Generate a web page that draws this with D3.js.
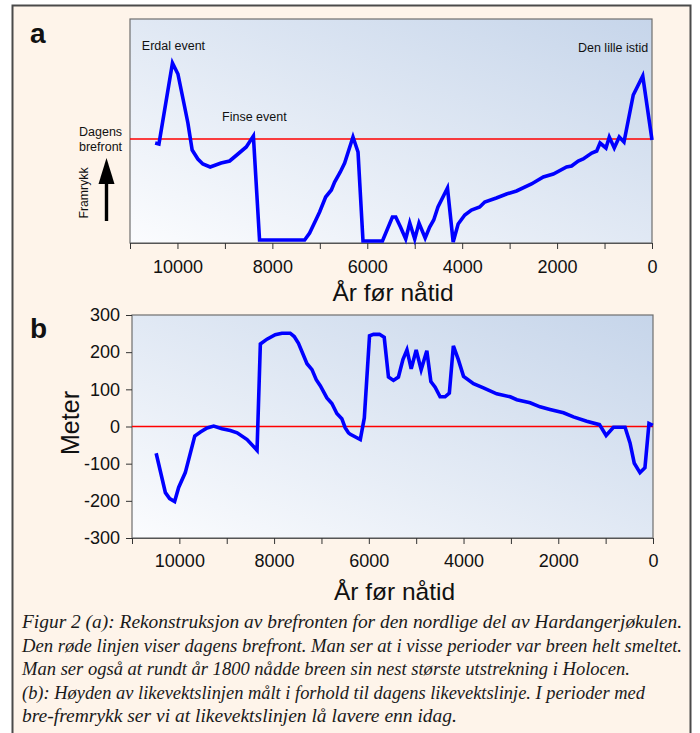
<!DOCTYPE html>
<html><head><meta charset="utf-8">
<script src="https://cdn.jsdelivr.net/npm/d3@7"></script>
<style>
html,body{margin:0;padding:0;background:#fff;}
svg{display:block;}
text{font-family:"Liberation Sans",Arial,Helvetica,sans-serif;fill:#111;}
.cap{font-family:"Liberation Serif","Times New Roman",serif;font-style:italic;fill:#1a1a1a;}
</style></head>
<body>
<svg id="c" width="700" height="733"></svg>
<script>
// ---------- data ----------
const yearsA = [10470,10390,10105,9990,9865,9780,9690,9570,9465,9310,9080,8900,8725,8550,8400,8270,7320,7215,7004,6877,6757,6688,6568,6477,6301,6195,6090,5680,5470,5400,5300,5190,5105,5000,4910,4780,4685,4600,4510,4310,4190,4085,3945,3805,3630,3525,3280,3065,2855,2540,2290,2080,1800,1695,1555,1450,1270,1165,1095,970,900,795,690,590,395,195,0];
const frontA = [-4,-5,76,65,36,16,-11,-20,-25,-28,-24,-22,-15,-8,3,-101,-101,-94,-73,-58,-51,-43,-33,-24,2,-13,-102,-102,-78,-78,-88,-100,-84,-100,-84,-99,-88,-81,-68,-49,-103,-85,-76,-71,-68,-63,-59,-55,-52,-45,-38,-35,-28,-27,-22,-20,-14,-12,-4,-9,2,-9,2,-3,44,63,-1];
const yearsB = [10490,10295,10205,10100,10015,9875,9675,9555,9415,9275,9100,8925,8780,8570,8360,8290,8150,7975,7835,7660,7575,7485,7305,7200,7110,7025,6885,6780,6675,6570,6500,6430,6390,6180,6095,5985,5900,5775,5675,5585,5480,5375,5280,5195,5105,5000,4895,4775,4690,4600,4495,4390,4300,4215,4110,4000,3790,3580,3300,3015,2875,2595,2385,2175,1890,1680,1400,1130,990,835,590,485,395,275,170,85,5];
const elaB = [-72,-178,-194,-202,-164,-124,-26,-15,-4,1,-6,-11,-17,-35,-64,222,235,247,251,251,242,224,169,153,126,110,77,62,35,21,-3,-17,-21,-35,23,244,248,248,240,133,124,133,180,206,155,206,153,204,121,106,80,80,90,217,180,135,115,104,88,80,72,64,53,46,37,26,14,5,-24,-2,-2,-44,-99,-124,-111,8,3];
const xTicks = [11000,10000,9000,8000,7000,6000,5000,4000,3000,2000,1000,0];
const xTickLabels = [10000,8000,6000,4000,2000,0];
const yTicksB = [300,200,100,0,-100,-200,-300];
const annotations = [
  {text:"Erdal event", year:10750, pos:50},
  {text:"Finse event", year:9060, pos:121},
  {text:"Den lille istid", year:1560, pos:52}
];
const captionLines = [
  "Figur 2 (a): Rekonstruksjon av brefronten for den nordlige del av Hardangerjøkulen.",
  "Den røde linjen viser dagens brefront. Man ser at i visse perioder var breen helt smeltet.",
  "Man ser også at rundt år 1800 nådde breen sin nest største utstrekning i Holocen.",
  "(b): Høyden av likevektslinjen målt i forhold til dagens likevektslinje. I perioder med",
  "bre-fremrykk ser vi at likevektslinjen lå lavere enn idag."
];
const captionWidths = [660,660,608,623,435];

// ---------- drawing ----------
const svg = d3.select("#c");
const defs = svg.append("defs");
const grad = defs.append("linearGradient").attr("id","bg").attr("x1","0%").attr("y1","100%").attr("x2","100%").attr("y2","0%");
grad.append("stop").attr("offset","0%").attr("stop-color","#fbfcfe");
grad.append("stop").attr("offset","100%").attr("stop-color","#c6d5ea");

svg.append("rect").attr("x",12.5).attr("y",5.5).attr("width",678).attr("height",740)
  .attr("fill","#fef4ea").attr("stroke","#4a4a4a").attr("stroke-width",2);

function panel(opt){
  const x = d3.scaleLinear().domain([11000,0]).range([opt.left,opt.right]);
  const y = d3.scaleLinear().domain(opt.yDomain).range([opt.bottom,opt.top]);
  const g = svg.append("g");
  g.append("rect").attr("x",opt.left).attr("y",opt.top).attr("width",opt.right-opt.left).attr("height",opt.bottom-opt.top)
    .attr("fill","url(#bg)").attr("stroke","#6e6e6e").attr("stroke-width",1.2);
  const ax = g.append("g").attr("transform",`translate(0,${opt.bottom})`)
    .call(d3.axisBottom(x).tickValues(xTicks).tickSize(6).tickFormat(d=>xTickLabels.includes(d)?String(d):""));
  ax.select(".domain").attr("stroke","#555");
  ax.selectAll(".tick line").attr("stroke","#333");
  ax.selectAll(".tick text").attr("font-size",18).attr("dy",0).attr("y",opt.tickBase-opt.bottom)
    .attr("font-family","Liberation Sans, Arial, sans-serif").attr("fill","#111");
  g.append("text").attr("x",(opt.left+opt.right)/2+2).attr("y",opt.titleBase).attr("text-anchor","middle")
    .attr("font-size",24.5).text("År før nåtid");
  g.append("line").attr("x1",opt.left).attr("x2",opt.right).attr("y1",y(0)).attr("y2",y(0))
    .attr("stroke","#ff0000").attr("stroke-width",1.6);
  const data = opt.years.map((d,i)=>[d,opt.vals[i]]);
  g.append("path").datum(data).attr("fill","none").attr("stroke","#0000ff").attr("stroke-width",3.6)
    .attr("stroke-linejoin","miter").attr("stroke-miterlimit",4)
    .attr("d",d3.line().x(d=>x(d[0])).y(d=>y(d[1])));
  return {x,y,g};
}

const A = panel({left:130,right:652,top:19,bottom:243,yDomain:[-104,120],years:yearsA,vals:frontA,tickBase:273,titleBase:301});
const B = panel({left:132,right:653,top:315,bottom:538,yDomain:[-300,300],years:yearsB,vals:elaB,tickBase:567,titleBase:600});

const ay = B.g.append("g").attr("transform","translate(132,0)")
  .call(d3.axisLeft(B.y).tickValues(yTicksB).tickSize(6).tickPadding(6).tickFormat(d=>String(d)));
ay.select(".domain").remove();
ay.selectAll(".tick line").attr("stroke","#333");
ay.selectAll(".tick text").attr("font-size",18).attr("font-family","Liberation Sans, Arial, sans-serif").attr("fill","#111");
B.g.append("text").attr("transform","translate(79,423) rotate(-90)").attr("text-anchor","middle")
  .attr("font-size",25).text("Meter");

svg.append("text").attr("x",30).attr("y",43).attr("font-size",28).attr("font-weight","bold").text("a");
svg.append("text").attr("x",30).attr("y",338).attr("font-size",28).attr("font-weight","bold").text("b");

annotations.forEach(a=>{
  svg.append("text").attr("x",A.x(a.year)).attr("y",a.pos).attr("font-size",12.5).text(a.text);
});
svg.append("text").attr("x",79).attr("y",136).attr("font-size",12.5).text("Dagens");
svg.append("text").attr("x",79).attr("y",151).attr("font-size",12.5).text("brefront");
svg.append("text").attr("transform","translate(88,193) rotate(-90)").attr("text-anchor","middle")
  .attr("font-size",12.3).text("Framrykk");
svg.append("line").attr("x1",106.5).attr("x2",106.5).attr("y1",221).attr("y2",178).attr("stroke","#000").attr("stroke-width",3.4);
svg.append("path").attr("d","M106.5,158 L114.5,184 L98.5,184 Z").attr("fill","#000");

captionLines.forEach((t,i)=>{
  svg.append("text").attr("class","cap").attr("x",22).attr("y",628+i*23.6)
    .attr("font-size",18.5).attr("textLength",captionWidths[i]).attr("lengthAdjust","spacingAndGlyphs").text(t);
});
</script>
</body></html>
